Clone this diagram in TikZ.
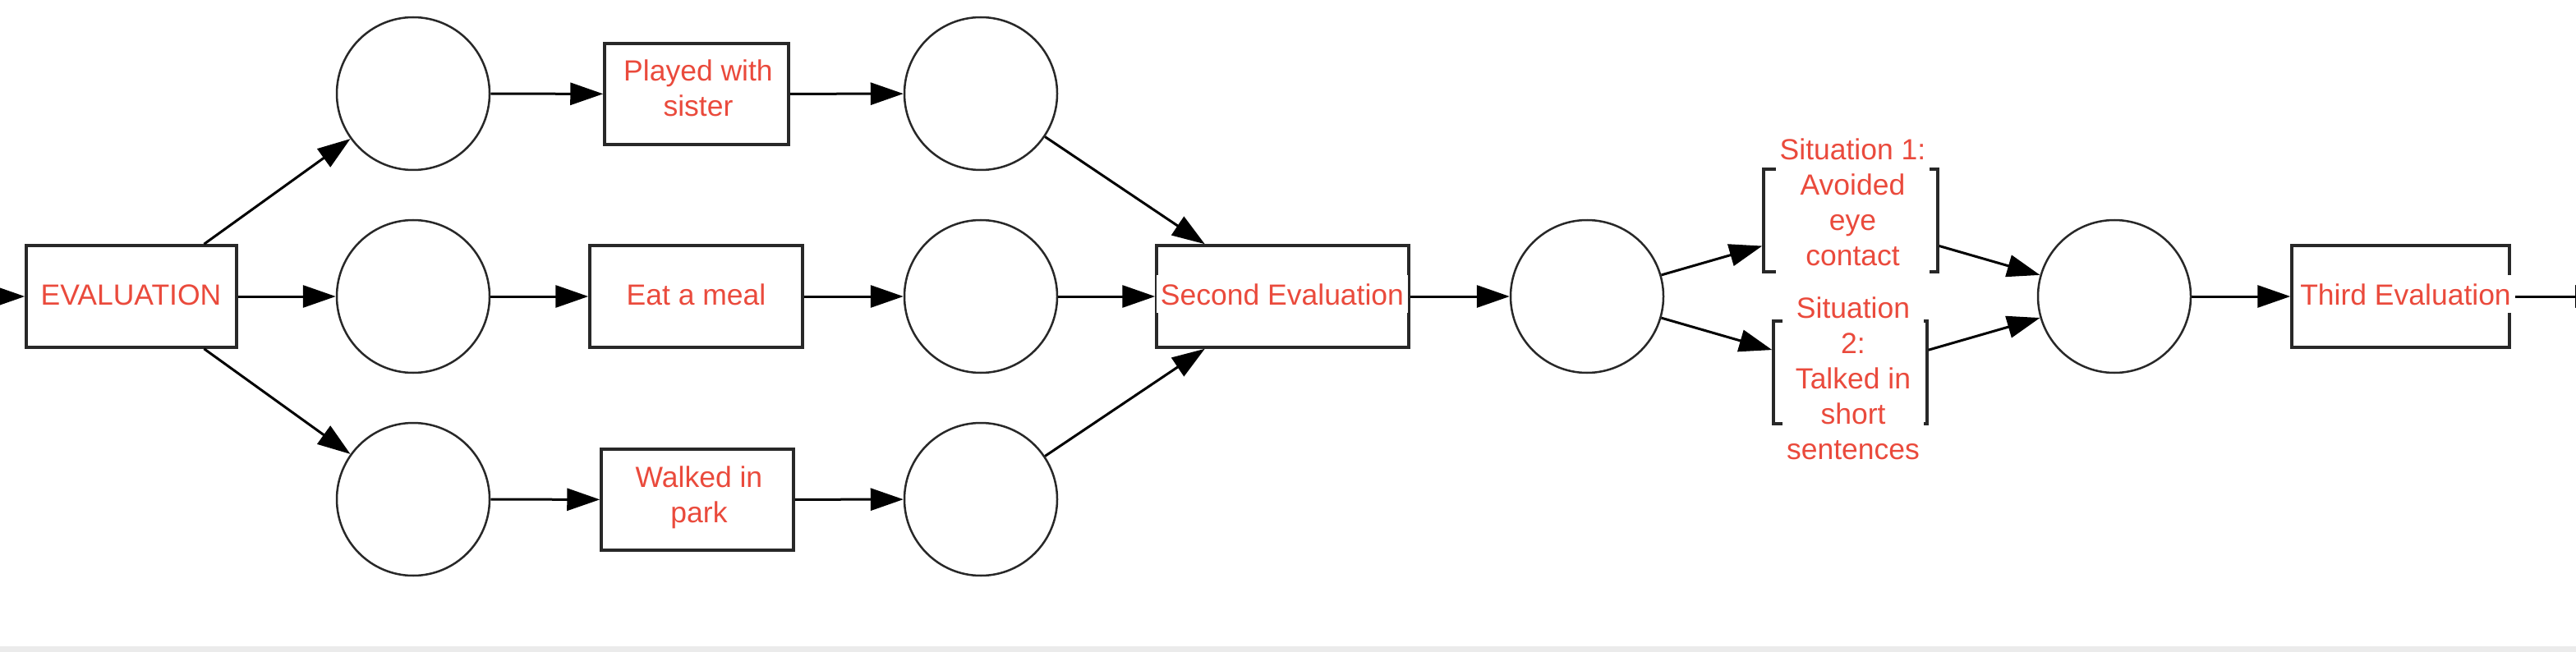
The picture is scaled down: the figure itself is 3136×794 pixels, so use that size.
\documentclass[tikz,border=0pt]{standalone}
\usepackage{fontspec}
\setmainfont{Liberation Sans}
\usetikzlibrary{arrows.meta}
\definecolor{txtred}{RGB}{234,74,60}
\definecolor{boxgray}{RGB}{40,40,40}
\definecolor{stripgray}{RGB}{235,235,235}
\begin{document}
\begin{tikzpicture}[x=1pt,y=-1pt,
  place/.style={circle,draw=boxgray,line width=2.5pt,minimum size=186pt,inner sep=0pt},
  actbox/.style={rectangle,draw=boxgray,line width=3.5pt,inner sep=0pt},
  lbl/.style={text=txtred,font=\fontsize{35.5}{43}\selectfont,fill=white,inner xsep=5pt,inner ysep=10pt,align=center},
  conn/.style={line width=3pt,draw=black,-{Triangle[length=40pt,width=27pt]}}]
\useasboundingbox (0,0) rectangle (3136,794);
\fill[white] (0,0) rectangle (3136,794);
\fill[stripgray] (0,787) rectangle (3136,794);

% boxes
\node[actbox,minimum width=256pt,minimum height=124pt] (eval) at (160,361) {};
\node[actbox,minimum width=224pt,minimum height=123pt] (played) at (848,114.5) {};
\node[actbox,minimum width=259pt,minimum height=124pt] (eat) at (847.5,361) {};
\node[actbox,minimum width=234pt,minimum height=123pt] (walked) at (849,608.5) {};
\node[actbox,minimum width=307pt,minimum height=124pt] (second) at (1561.5,361) {};
\node[actbox,minimum width=212pt,minimum height=125pt] (sit1) at (2253,268.5) {};
\node[actbox,minimum width=187pt,minimum height=125pt] (sit2) at (2252.5,453.5) {};
\node[actbox,minimum width=265pt,minimum height=124pt] (third) at (2922.5,361) {};

% places
\node[place] (c1a) at (503,114) {};
\node[place] (c1b) at (503,361) {};
\node[place] (c1c) at (503,608) {};
\node[place] (c2a) at (1194,114) {};
\node[place] (c2b) at (1194,361) {};
\node[place] (c2c) at (1194,608) {};
\node[place] (c3) at (1932,361) {};
\node[place] (c4) at (2574,361) {};

\coordinate (lin) at (-60,361);
\coordinate (rout) at (3175,361);

% connectors
\draw[conn] (lin) -- (eval);
\draw[conn] (eval) -- (c1a);
\draw[conn] (eval) -- (c1b);
\draw[conn] (eval) -- (c1c);
\draw[conn] (c1a) -- (played);
\draw[conn] (c1b) -- (eat);
\draw[conn] (c1c) -- (walked);
\draw[conn] (played) -- (c2a);
\draw[conn] (eat) -- (c2b);
\draw[conn] (walked) -- (c2c);
\draw[conn] (c2a) -- (second);
\draw[conn] (c2b) -- (second);
\draw[conn] (c2c) -- (second);
\draw[conn] (second) -- (c3);
\draw[conn] (c3) -- (sit1);
\draw[conn] (c3) -- (sit2);
\draw[conn] (sit1) -- (c4);
\draw[conn] (sit2) -- (c4);
\draw[conn] (c4) -- (third);
\draw[conn] (third) -- (rout);

% labels
\node[lbl,anchor=base] (teval) at (159.5,371) {EVALUATION};
\node[lbl] (tplayed) at (850,107.5) {Played with\\sister};
\node[lbl,anchor=base] (teat) at (847.5,371) {Eat a meal};
\node[lbl] (twalked) at (851,606) {Walked in\\park};
\node[lbl,anchor=base] (tsecond) at (1561,371) {Second Evaluation};
\node[lbl] (tsit1) at (2255.5,246.5) {Situation 1:\\Avoided\\eye\\contact};
\node[lbl] (tsit2) at (2256,461) {Situation\\2:\\Talked in\\short\\sentences};
\node[lbl,anchor=base] (tthird) at (2928.5,371) {Third Evaluation};
\end{tikzpicture}
\end{document}
